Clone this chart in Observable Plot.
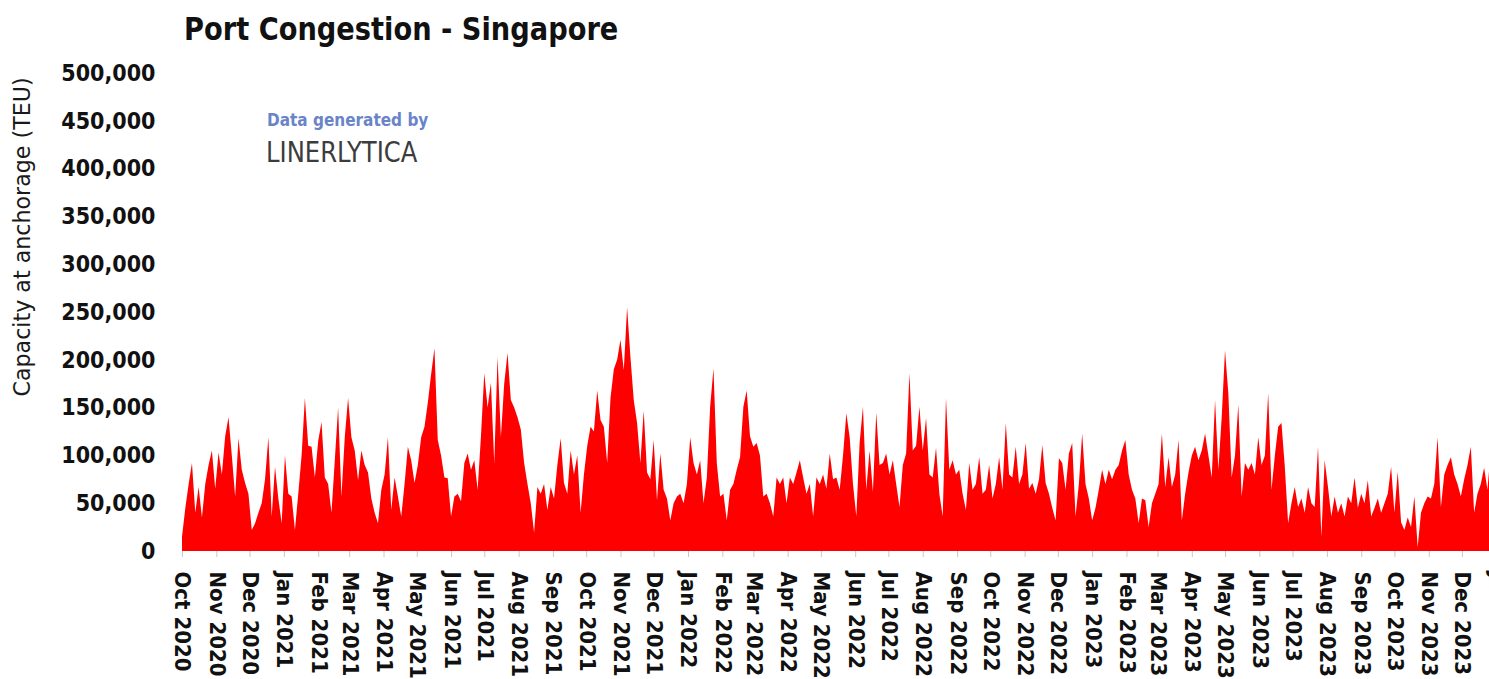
<!DOCTYPE html>
<html>
<head>
<meta charset="utf-8">
<script src="https://cdn.jsdelivr.net/npm/d3@7"></script>
<script src="https://cdn.jsdelivr.net/npm/@observablehq/plot@0.6"></script>
<style>
  html, body { margin: 0; padding: 0; background: #fff; overflow: hidden; }
  #wrap { position: relative; width: 1489px; height: 679px; }
  .cond { font-family: "DejaVu Sans Condensed", "DejaVu Sans", sans-serif; font-stretch: condensed; }
  #title { position: absolute; left: 184px; top: 11px; font-size: 30px; font-weight: bold; color: #111; white-space: nowrap; line-height: 36px; transform-origin: left center; transform: scale(1.01, 1.08); }
  #ylabel { position: absolute; left: 22px; top: 237px; transform: translate(-50%, -50%) rotate(-90deg) scale(1.12, 1.05); font-size: 22px; color: #1a1a1a; white-space: nowrap; }
  #credit1 { position: absolute; left: 267px; top: 110px; font-size: 17px; font-weight: bold; color: #6a84c8; white-space: nowrap; line-height: 20px; }
  #credit2 { position: absolute; left: 266px; top: 136px; font-size: 27px; color: #3c3c3c; white-space: nowrap; line-height: 34px; transform-origin: left center; transform: scale(1, 1.05); }
  #chart { position: absolute; left: 0; top: 0; }
</style>
</head>
<body>
<div id="wrap">
  <div id="chart"></div>
  <div id="title" class="cond">Port Congestion - Singapore</div>
  <div id="ylabel" class="cond">Capacity at anchorage (TEU)</div>
  <div id="credit1" class="cond">Data generated by</div>
  <div id="credit2" class="cond">LINERLYTICA</div>
</div>
<script>
// Capacity at anchorage, thousand TEU, one reading every 3 days starting 1 Oct 2020
const teu2020 = [15,45,70,92,40,67,35,70,90,105,65,103,80,120,140,100,57,118,85,71,60,22,29,40,50,75,119,36,88,55,29];
const teu2021 = [100,60,57,22,60,100,160,110,109,77,
  115,135,77,70,40,95,150,57,119,160,
  119,105,74,105,90,82,55,40,29,64,
  80,119,43,77,57,36,70,109,95,71,
  90,119,130,155,185,212,116,100,77,76,
  36,57,60,52,92,102,85,95,64,120,
  186,150,176,92,203,119,175,207,158,150,
  140,127,92,70,50,19,67,60,70,43,
  67,55,90,118,71,60,105,80,100,40,
  80,110,130,125,168,137,130,92,160,190,
  200,221,189,255,203,158,134,92,147,82,
  75,116,53,102,64,55,32,50,57,60,
  50,70];
const teu2022 = [119,92,80,95,50,77,151,191,92,57,
  60,32,64,70,85,98,151,168,120,109,
  113,100,57,60,50,36,77,70,77,50,
  77,70,82,95,77,60,70,36,77,70,
  80,65,102,75,77,64,100,144,119,70,
  36,113,151,64,105,62,145,90,92,102,
  80,95,70,46,90,102,186,105,110,151,
  105,139,80,77,108,60,36,160,85,95,
  80,85,60,43,92,64,70,98,60,64,
  90,55,70,98,64,134,80,77,109,70,
  80,113,65,71,60,75,111,71,60,45,
  32,97,92,64,102,113,36,70,123,70,55];
const teu2023 = [32,45,64,85,70,85,75,85,90,105,
  116,80,64,55,29,55,53,25,50,60,
  70,123,67,98,67,80,116,32,60,82,
  100,109,95,105,123,100,77,158,85,140,
  210,165,77,100,153,57,92,85,92,80,
  119,90,100,165,64,100,130,134,88,29,
  50,67,46,55,40,67,50,46,109,15,
  95,67,36,57,40,50,36,57,50,77,
  45,60,50,74,36,45,55,40,50,60,
  88,40,83,30,22,35,25,57,4,40,
  50,57,55,70,119,46,80,90,98,80,
  70,57,75,90,109,40,60,70,87,64,
  105,77];
const teu2024 = [90];

const yTicks = [0, 50000, 100000, 150000, 200000, 250000, 300000, 350000, 400000, 450000, 500000];
const startDate = new Date(Date.UTC(2020, 9, 1));
const endDate = new Date(Date.UTC(2023, 11, 25, 10));
const monthTicks = d3.utcMonth.range(startDate, new Date(Date.UTC(2024, 0, 2)));

const readings = [...teu2020, ...teu2021, ...teu2022, ...teu2023, ...teu2024];
const data = readings.map((v, i) => ({date: d3.utcDay.offset(startDate, 3 * i), teu: v * 1000}));

const fam = '"DejaVu Sans Condensed", "DejaVu Sans", sans-serif';
const chart = Plot.plot({
  width: 1489,
  height: 679,
  marginLeft: 182,
  marginRight: 0,
  marginTop: 73,
  marginBottom: 128,
  style: {fontFamily: fam, fontStretch: "condensed", overflow: "visible", maxWidth: "none", background: "transparent"},
  x: {type: "utc", domain: [startDate, endDate]},
  y: {domain: [0, 500000]},
  marks: [
    Plot.areaY(data, {x: "date", y: "teu", fill: "#ff0000"}),
    Plot.axisX({ticks: monthTicks, tickFormat: d3.utcFormat("%b %Y"), tickRotate: 90, tickSize: 6, tickPadding: 14,
      stroke: "#c8c8c8", fill: "#111", fontSize: 22, fontWeight: "bold", fontFamily: fam, label: null}),
    Plot.axisY({ticks: yTicks, tickFormat: d3.format(","), tickSize: 0, tickPadding: 27,
      fill: "#111", fontSize: 23, fontWeight: "bold", fontFamily: fam, label: null})
  ]
});
document.getElementById("chart").appendChild(chart);
</script>
</body>
</html>
